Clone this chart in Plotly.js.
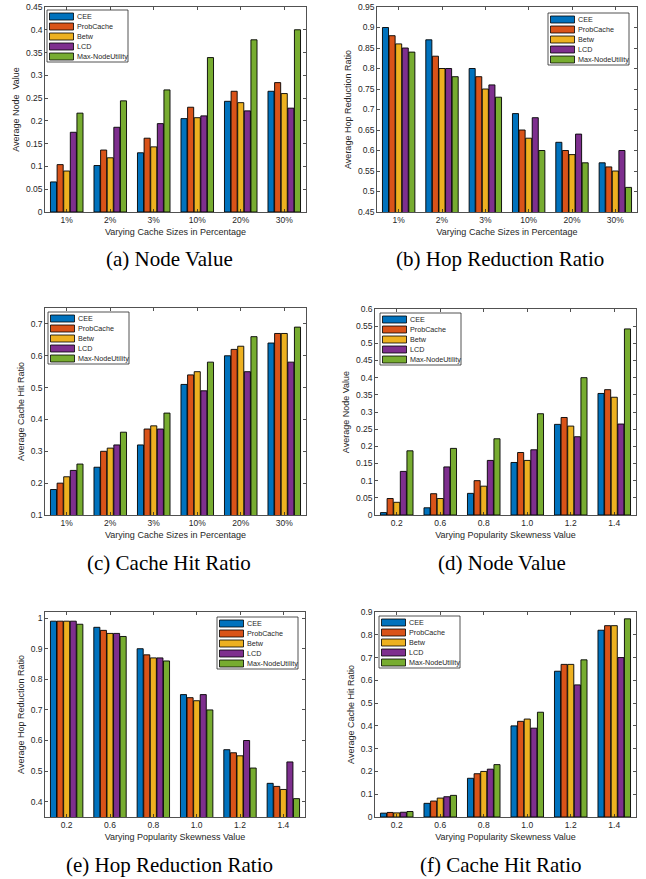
<!DOCTYPE html>
<html><head><meta charset="utf-8">
<script src="https://cdn.plot.ly/plotly-3.0.1.min.js"></script>
<style>html,body{margin:0;padding:0;background:#fff}#chart{width:646px;height:879px}</style>
</head><body><div id="chart"></div>
<script>
// ---------- DATA ----------
const seriesNames = ['CEE', 'ProbCache', 'Betw', 'LCD', 'Max-NodeUtility'];
const cacheSizes = ['1%', '2%', '3%', '10%', '20%', '30%'];
const skewValues = ['0.2', '0.6', '0.8', '1.0', '1.2', '1.4'];

// rows: CEE, ProbCache, Betw, LCD, Max-NodeUtility
const nodeValueByCache = [
  [0.066, 0.102, 0.130, 0.205, 0.243, 0.265],
  [0.104, 0.136, 0.162, 0.230, 0.265, 0.284],
  [0.090, 0.119, 0.143, 0.207, 0.240, 0.260],
  [0.175, 0.186, 0.194, 0.211, 0.222, 0.228],
  [0.217, 0.244, 0.268, 0.339, 0.378, 0.400]
];
const hopRatioByCache = [
  [0.90, 0.87, 0.80, 0.69, 0.62, 0.57],
  [0.88, 0.83, 0.78, 0.65, 0.60, 0.56],
  [0.86, 0.80, 0.75, 0.63, 0.59, 0.55],
  [0.85, 0.80, 0.76, 0.68, 0.64, 0.60],
  [0.84, 0.78, 0.73, 0.60, 0.57, 0.51]
];
const hitRatioByCache = [
  [0.18, 0.25, 0.32, 0.51, 0.60, 0.64],
  [0.20, 0.30, 0.37, 0.54, 0.62, 0.67],
  [0.22, 0.31, 0.38, 0.55, 0.63, 0.67],
  [0.24, 0.32, 0.37, 0.49, 0.55, 0.58],
  [0.26, 0.36, 0.42, 0.58, 0.66, 0.69]
];
const nodeValueBySkew = [
  [0.007, 0.021, 0.063, 0.153, 0.264, 0.354],
  [0.048, 0.062, 0.100, 0.182, 0.284, 0.365],
  [0.037, 0.048, 0.084, 0.159, 0.259, 0.343],
  [0.127, 0.140, 0.159, 0.190, 0.228, 0.265],
  [0.187, 0.194, 0.222, 0.295, 0.400, 0.542]
];
const hopRatioBySkew = [
  [0.99, 0.97, 0.90, 0.75, 0.57, 0.46],
  [0.99, 0.96, 0.88, 0.74, 0.56, 0.45],
  [0.99, 0.95, 0.87, 0.73, 0.55, 0.44],
  [0.99, 0.95, 0.87, 0.75, 0.60, 0.53],
  [0.98, 0.94, 0.86, 0.70, 0.51, 0.41]
];
const hitRatioBySkew = [
  [0.017, 0.060, 0.17, 0.40, 0.64, 0.82],
  [0.020, 0.070, 0.19, 0.42, 0.67, 0.84],
  [0.018, 0.083, 0.20, 0.43, 0.67, 0.84],
  [0.021, 0.089, 0.21, 0.39, 0.58, 0.70],
  [0.024, 0.095, 0.23, 0.46, 0.69, 0.87]
];

const yTitles = ['Average Node  Value', 'Average Hop Reduction Ratio', 'Average Cache Hit Ratio',
                 'Average Node Value', 'Average Hop Reduction Ratio', 'Average Cache Hit Ratio'];
const xTitles = ['Varying Cache Sizes in Percentage', 'Varying Cache Sizes in Percentage',
                 'Varying Cache Sizes in Percentage', 'Varying Popularity Skewness Value',
                 'Varying Popularity Skewness Value', 'Varying Popularity Skewness Value'];
const captions = ['(a) Node Value', '(b) Hop Reduction Ratio', '(c) Cache Hit Ratio',
                  '(d) Node Value', '(e) Hop Reduction Ratio', '(f) Cache Hit Ratio'];

// ---------- STYLE / LAYOUT ----------
const W = 646, H = 879;
const colors = ['#0072BD', '#D95319', '#EDB120', '#7E2F8E', '#77AC30'];
const axisColor = '#262626';
const panels = [
  {data: nodeValueByCache, cats: cacheSizes, box: [45, 306, 7, 212], range: [0, 0.45], dtick: 0.05, leg: 'left', lo: [2, 3], cap: [169, 268]},
  {data: hopRatioByCache, cats: cacheSizes, box: [377, 637, 7, 212], range: [0.45, 0.95], dtick: 0.05, leg: 'right', lo: [8, 6], cap: [500, 268]},
  {data: hitRatioByCache, cats: cacheSizes, box: [45, 306, 308, 515], range: [0.1, 0.75], dtick: 0.1, leg: 'left', lo: [3, 4], cap: [169, 572]},
  {data: nodeValueBySkew, cats: skewValues, box: [375, 636, 309, 515], range: [0, 0.6], dtick: 0.05, leg: 'left', lo: [5, 4], cap: [502, 572]},
  {data: hopRatioBySkew, cats: skewValues, box: [45, 305, 612, 817], range: [0.35, 1.02], dtick: 0.1, leg: 'right', lo: [7, 5], cap: [169, 874]},
  {data: hitRatioBySkew, cats: skewValues, box: [375, 636, 612, 817], range: [0, 0.9], dtick: 0.1, leg: 'left', lo: [4, 4], cap: [501, 874]}
];

const traces = [];
const layout = {
  width: W, height: H,
  margin: {l: 0, r: 0, t: 0, b: 0},
  paper_bgcolor: '#fff', plot_bgcolor: '#fff',
  barmode: 'group', bargap: 0.24, bargroupgap: 0.08,
  showlegend: false,
  font: {family: 'Liberation Sans, Arial, sans-serif', size: 8.5, color: axisColor},
  shapes: [], annotations: []
};

panels.forEach((p, i) => {
  const n = i === 0 ? '' : String(i + 1);
  const xa = 'x' + n, ya = 'y' + n;
  const [l, r, t, b] = p.box;
  p.data.forEach((vals, s) => {
    traces.push({
      type: 'bar', name: seriesNames[s], x: p.cats, y: vals,
      xaxis: xa, yaxis: ya,
      marker: {color: colors[s], line: {color: '#000', width: 0.9}},
      hoverinfo: 'x+y+name'
    });
  });
  const common = {
    showline: true, linecolor: axisColor, linewidth: 0.8, mirror: 'ticks',
    ticks: 'inside', ticklen: 3, tickwidth: 0.8, tickcolor: axisColor,
    showgrid: false, zeroline: false, fixedrange: true,
    tickfont: {size: 8.5, color: axisColor}
  };
  layout['xaxis' + n] = Object.assign({}, common, {
    type: 'category', anchor: ya, domain: [l / W, r / W],
    title: {text: xTitles[i], font: {size: 9, color: axisColor}, standoff: 4}
  });
  layout['yaxis' + n] = Object.assign({}, common, {
    anchor: xa, domain: [1 - b / H, 1 - t / H], range: p.range, dtick: p.dtick, tick0: 0,
    title: {text: yTitles[i], font: {size: 9, color: axisColor}, standoff: 4}
  });

  // legend box (MATLAB style), built from series names/colors
  const aw = r - l, ah = b - t;
  const bw = 81, bh = 52;
  const bx0 = p.leg === 'left' ? p.lo[0] : aw - p.lo[0] - bw;
  const by0 = p.lo[1];
  const fx = v => v / aw, fy = v => 1 - v / ah;
  layout.shapes.push({type: 'rect', xref: xa + ' domain', yref: ya + ' domain',
    x0: fx(bx0), x1: fx(bx0 + bw), y0: fy(by0), y1: fy(by0 + bh),
    fillcolor: '#fff', line: {color: axisColor, width: 0.8}, layer: 'above'});
  seriesNames.forEach((nm, s) => {
    const cy = by0 + 6.5 + s * 10;
    layout.shapes.push({type: 'rect', xref: xa + ' domain', yref: ya + ' domain',
      x0: fx(bx0 + 2.5), x1: fx(bx0 + 26.5), y0: fy(cy - 3.5), y1: fy(cy + 3.5),
      fillcolor: colors[s], line: {color: '#000', width: 0.8}, layer: 'above'});
    layout.annotations.push({xref: xa + ' domain', yref: ya + ' domain',
      x: fx(bx0 + 27.5), y: fy(cy), xanchor: 'left', yanchor: 'middle', showarrow: false,
      text: nm, font: {size: 7.2, color: axisColor}});
  });

  // caption
  layout.annotations.push({xref: 'paper', yref: 'paper', x: p.cap[0] / W, y: 1 - (p.cap[1] + 5) / H,
    xanchor: 'center', yanchor: 'bottom', showarrow: false, text: captions[i],
    font: {family: 'Liberation Serif, Times New Roman, serif', size: 21, color: '#000'}});
});

Plotly.newPlot('chart', traces, layout, {displayModeBar: false, staticPlot: true});
</script>
</body></html>
